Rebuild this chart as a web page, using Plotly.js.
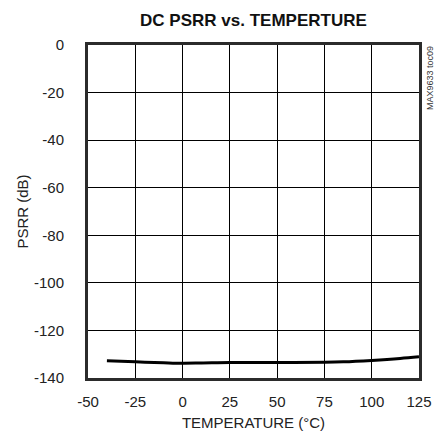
<!DOCTYPE html>
<html>
<head>
<meta charset="utf-8">
<script src="https://cdn.plot.ly/plotly-3.0.1.min.js"></script>
<style>html,body{margin:0;padding:0;background:#fff;}#chart{width:440px;height:438px;}</style>
</head>
<body>
<div id="chart"></div>
<script>
var temperatures = [-40, -25, -10, 0, 10, 25, 50, 75, 85, 100, 115, 125];
var psrrValues = [-132.8, -133.2, -133.6, -133.8, -133.7, -133.5, -133.5, -133.4, -133.2, -132.6, -131.8, -131.1];
var xTicks = [-50, -25, 0, 25, 50, 75, 100, 125];
var yTicks = [0, -20, -40, -60, -80, -100, -120, -140];

var FONT = "'Liberation Sans Narrow', 'Arial Narrow', 'Liberation Sans', Arial, sans-serif";

var trace = {
  x: temperatures,
  y: psrrValues,
  mode: 'lines',
  line: {color: '#000000', width: 3, shape: 'spline'},
  hoverinfo: 'skip'
};

var layout = {
  width: 440,
  height: 438,
  margin: {l: 88, r: 21, t: 45, b: 60},
  paper_bgcolor: '#ffffff',
  plot_bgcolor: '#ffffff',
  showlegend: false,
  font: {family: FONT, size: 15, color: '#222222'},
  title: {
    text: '<b>DC PSRR vs. TEMPERTURE</b>',
    font: {family: FONT, size: 17, color: '#111111'},
    x: 0.576, xanchor: 'center',
    y: 0.955, yanchor: 'middle'
  },
  xaxis: {
    range: [-50, 125],
    tickvals: xTicks,
    ticktext: xTicks.map(String),
    showgrid: true, gridcolor: '#000000', gridwidth: 1,
    showline: true, mirror: true, linecolor: '#2b2b2b', linewidth: 3,
    zeroline: false,
    ticks: 'outside', ticklen: 8, tickcolor: 'rgba(0,0,0,0)',
    tickfont: {family: FONT, size: 15, color: '#222222'},
    title: {text: 'TEMPERATURE (°C)', font: {family: FONT, size: 15, color: '#222222'}, standoff: 9}
  },
  yaxis: {
    range: [-140, 0],
    tickvals: yTicks,
    ticktext: yTicks.map(String),
    showgrid: true, gridcolor: '#000000', gridwidth: 1,
    showline: true, mirror: true, linecolor: '#2b2b2b', linewidth: 3,
    zeroline: false,
    ticks: 'outside', ticklen: 18, tickcolor: 'rgba(0,0,0,0)',
    tickfont: {family: FONT, size: 15, color: '#222222'},
    title: {text: 'PSRR (dB)', font: {family: FONT, size: 15, color: '#222222'}, standoff: 2}
  },
  annotations: [{
    text: 'MAX9633 toc09',
    xref: 'paper', yref: 'paper',
    x: 1.0, y: 1.0,
    xanchor: 'left', yanchor: 'top',
    xshift: 4, yshift: 1,
    textangle: -90,
    showarrow: false,
    font: {family: FONT, size: 9, color: '#333333'}
  }]
};

Plotly.newPlot('chart', [trace], layout, {displayModeBar: false, staticPlot: true});
</script>
</body>
</html>
